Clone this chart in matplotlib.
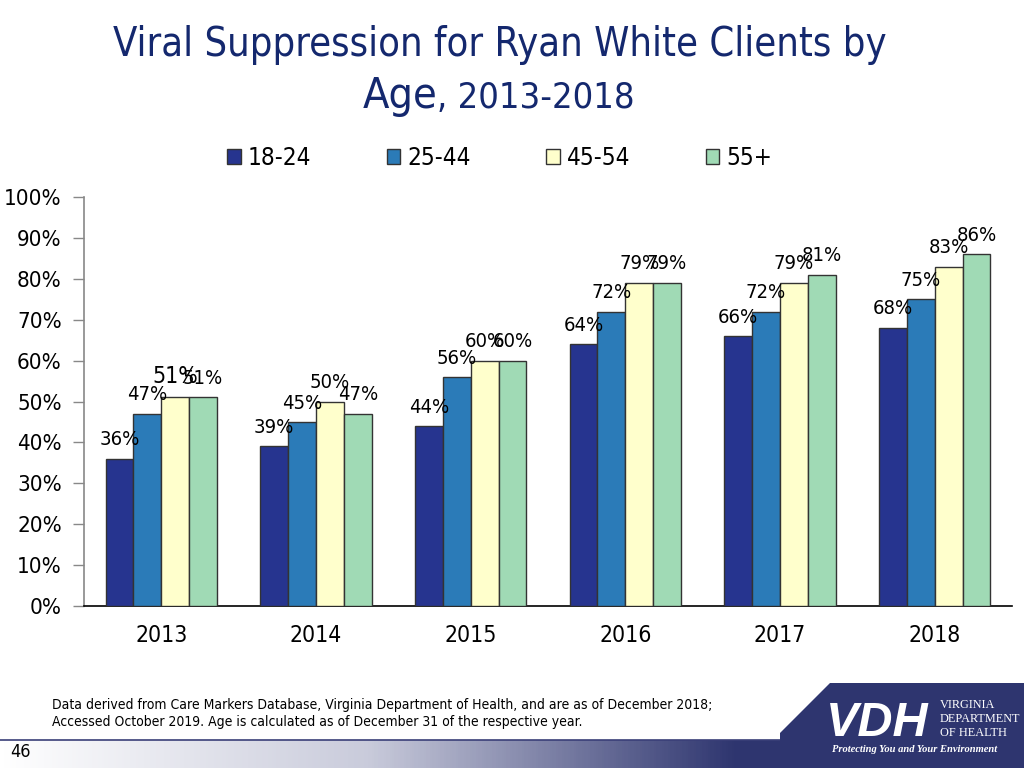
import numpy as np
import matplotlib
matplotlib.use("Agg")
import matplotlib.pyplot as plt
from matplotlib.patches import Polygon
from matplotlib.colors import LinearSegmentedColormap

years = ["2013", "2014", "2015", "2016", "2017", "2018"]
groups = ["18-24", "25-44", "45-54", "55+"]
v_18_24 = [36, 39, 44, 64, 66, 68]
v_25_44 = [47, 45, 56, 72, 72, 75]
v_45_54 = [51, 50, 60, 79, 79, 83]
v_55p = [51, 47, 60, 79, 81, 86]
series = [v_18_24, v_25_44, v_45_54, v_55p]
colors = ["#26348f", "#2b7bb8", "#ffffcc", "#a0dab5"]
yticks = [0, 10, 20, 30, 40, 50, 60, 70, 80, 90, 100]

FONT = "DejaVu Sans"
ST = "condensed"
NAVY = "#14286e"

fig = plt.figure(figsize=(10.24, 7.68), dpi=100)
W, H = 1024, 768
ax = fig.add_axes([84 / W, 1 - 606 / H, (1012 - 84) / W, (606 - 197) / H])

x = np.arange(len(years))
bw = 0.18
for i, (vals, c) in enumerate(zip(series, colors)):
    pos = x + (i - 1.5) * bw
    ax.bar(pos, vals, width=bw, color=c, edgecolor="#333333", linewidth=1.0,
           label=groups[i], zorder=3)
    for p, v in zip(pos, vals):
        fs = 16.5 if (i == 2 and p < 0.5) else 14.5
        ax.text(p, v + 2.3, f"{v}%", ha="center", va="bottom", fontsize=fs,
                family=FONT, fontstretch=ST, color="black", zorder=5)

ax.set_xlim(-0.5, len(years) - 0.5)
ax.set_ylim(0, 100)
ax.set_yticks(yticks)
ax.set_yticklabels([f"{t}%" for t in yticks], fontsize=16, family=FONT, fontstretch=ST)
ax.set_xticks(x)
ax.set_xticklabels(years, fontsize=16.5, family=FONT, fontstretch=ST)
ax.tick_params(axis="x", length=0, pad=13)
ax.tick_params(axis="y", length=8, width=1, color="#888888", pad=8)
for s in ["top", "right"]:
    ax.spines[s].set_visible(False)
ax.spines["left"].set_color("#888888")
ax.spines["left"].set_linewidth(1.2)
ax.spines["bottom"].set_color("black")
ax.spines["bottom"].set_linewidth(1.2)

leg = fig.legend(loc="center", bbox_to_anchor=(0.488, 1 - 158 / H), ncol=4,
                 frameon=False, prop={"family": FONT, "stretch": ST, "size": 17.5},
                 handlelength=0.55, handleheight=0.55, handletextpad=0.3,
                 columnspacing=3.1)

fig.text(500 / W, 1 - 45 / H, "Viral Suppression for Ryan White Clients by",
         ha="center", va="center", fontsize=28.5, family=FONT, fontstretch=ST, color=NAVY)
fig.text(437 / W, 1 - 108 / H, "Age", ha="right", va="baseline",
         fontsize=31, family=FONT, fontstretch=ST, color=NAVY)
fig.text(437 / W, 1 - 108 / H, ", 2013-2018", ha="left", va="baseline",
         fontsize=26, family=FONT, fontstretch=ST, color=NAVY)

# footer overlay
ov = fig.add_axes([0, 0, 1, 1], zorder=10)
ov.set_xlim(0, W)
ov.set_ylim(H, 0)
ov.axis("off")
ov.patch.set_alpha(0)
cmap = LinearSegmentedColormap.from_list("g", ["#ffffff", "#c9cbdb", "#2e356f"])
grad = np.linspace(0, 1, 512)
grad = np.clip(grad / 0.72, 0, 1)[None, :]
ov.imshow(grad, cmap=cmap, extent=[0, W, 768, 740], aspect="auto", zorder=1)
ov.plot([0, W], [740, 740], color="#3a3f78", lw=1.2, zorder=2)
ov.add_patch(Polygon([(830, 683), (W, 683), (W, 768), (780, 768), (780, 733)],
                     closed=True, facecolor="#2e356f", edgecolor="none", zorder=3))
ov.text(826, 736, "VDH", color="white", fontsize=35, fontweight="bold", style="italic",
        family="Liberation Sans", va="baseline", ha="left", zorder=4)
for k, s in enumerate(["VIRGINIA", "DEPARTMENT", "OF HEALTH"]):
    ov.text(940, 705 + k * 14, s, color="white", fontsize=8.8, family="Liberation Serif",
            va="center", ha="left", zorder=4)
ov.text(832, 749.5, "Protecting You and Your Environment", color="white", fontsize=7.6,
        family="Liberation Serif", style="italic", fontweight="bold", va="center", ha="left", zorder=4)
ov.text(10, 752, "46", fontsize=13, family=FONT, fontstretch=ST, va="center", ha="left", zorder=4)
ov.text(52, 705, "Data derived from Care Markers Database, Virginia Department of Health, and are as of December 2018;",
        fontsize=10, family=FONT, fontstretch=ST, va="center", ha="left", zorder=4)
ov.text(52, 722, "Accessed October 2019. Age is calculated as of December 31 of the respective year.",
        fontsize=10, family=FONT, fontstretch=ST, va="center", ha="left", zorder=4)

fig.savefig("out.png", dpi=100)
